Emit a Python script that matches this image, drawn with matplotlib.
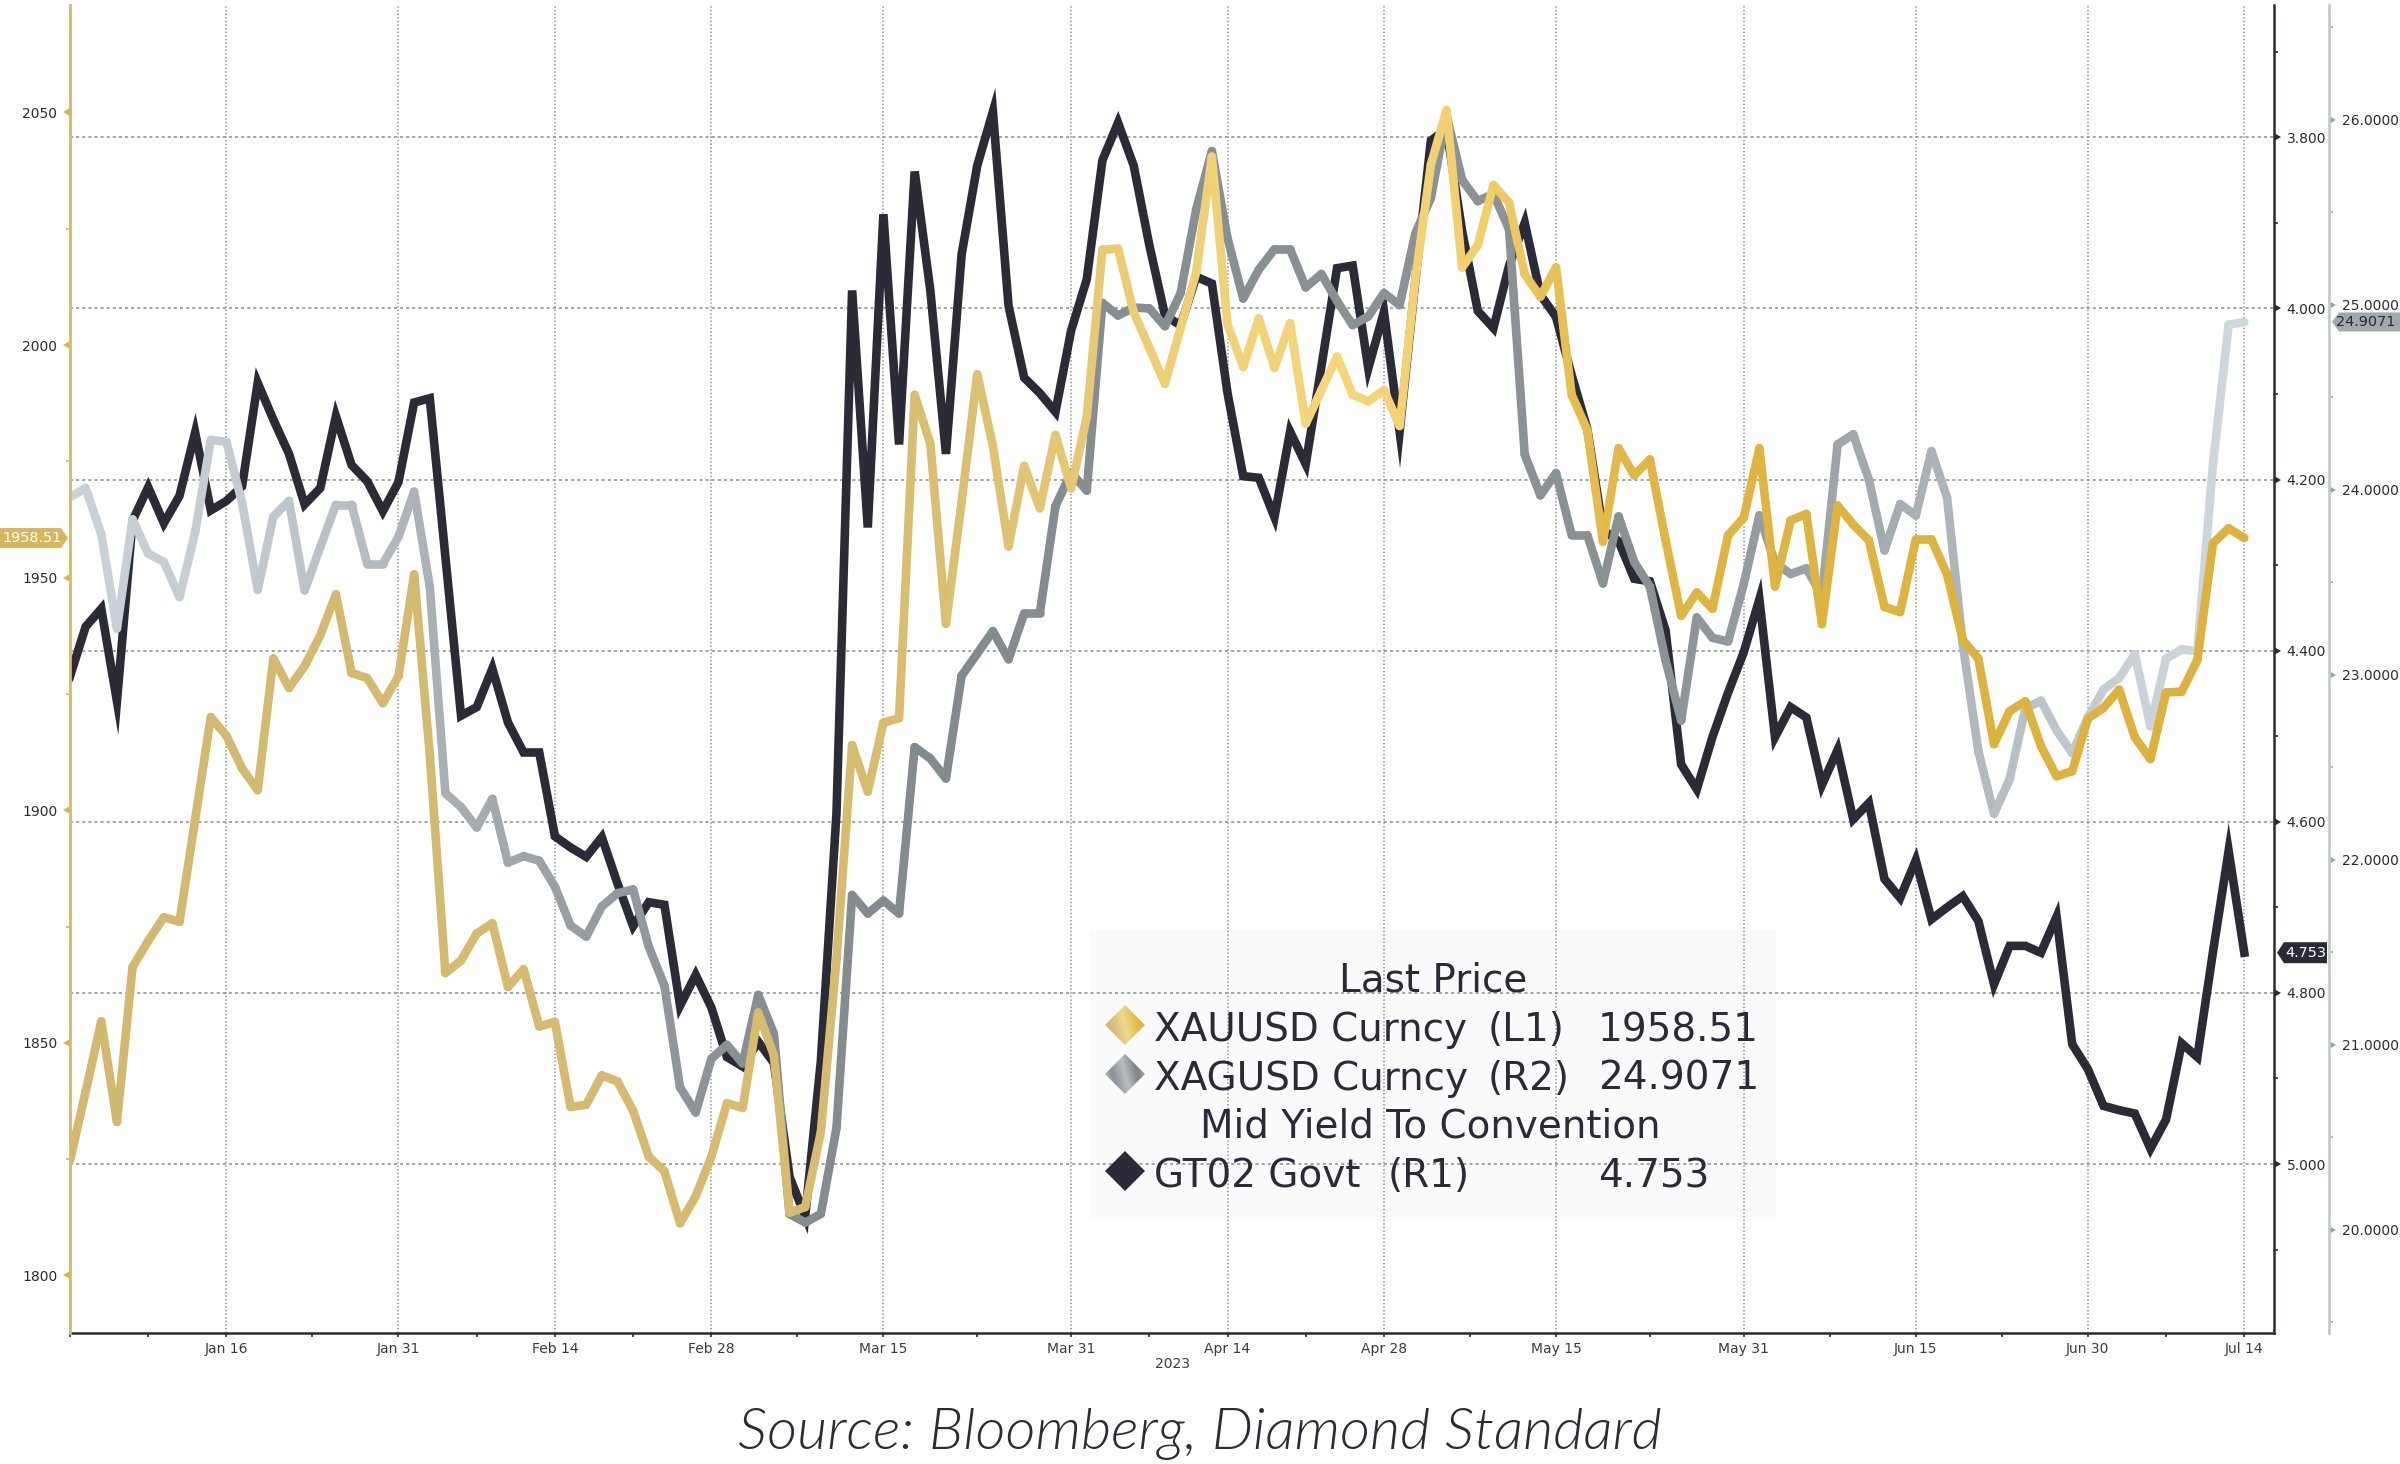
import numpy as np
import pandas as pd
import matplotlib
matplotlib.use('Agg')
import matplotlib.pyplot as plt
import matplotlib.transforms as mtrans
from matplotlib.collections import LineCollection
from matplotlib.colors import LinearSegmentedColormap
from matplotlib.patches import Polygon, Rectangle
from matplotlib.ticker import MultipleLocator, FormatStrFormatter

plt.rcParams['font.family'] = ['DejaVu Sans']
plt.rcParams['lines.scale_dashes'] = False

# weekdays shown on the x axis (Bloomberg keeps holidays)
dates = pd.bdate_range('2023-01-02', '2023-07-14')

# XAUUSD Curncy, left axis
gold = [
    1824.7, 1839.5, 1854.6, 1833.0, 1866.3, 1871.9, 1877.0, 1876.0, 1898.0, 1920.0,
    1916.0, 1909.0, 1904.3, 1932.6, 1926.3, 1931.0, 1937.6, 1946.4, 1929.5, 1928.4,
    1923.0, 1928.8, 1950.7, 1912.0, 1865.0, 1867.7, 1873.5, 1875.7, 1862.0, 1865.8,
    1853.5, 1854.5, 1836.2, 1836.7, 1843.0, 1841.7, 1835.4, 1825.5, 1822.4, 1811.2,
    1817.0, 1825.5, 1837.0, 1836.0, 1856.5, 1847.3, 1813.5, 1814.7, 1830.8, 1868.0,
    1914.0, 1904.0, 1918.8, 1919.8, 1989.3, 1978.8, 1940.1, 1966.3, 1993.7, 1978.3,
    1956.7, 1974.0, 1964.9, 1980.7, 1969.2, 1984.5, 2020.5, 2020.7, 2007.1, 1999.4,
    1991.7, 2003.7, 2015.7, 2040.5, 2004.4, 1995.3, 2005.7, 1995.1, 2004.7, 1983.1,
    1990.3, 1997.5, 1989.3, 1987.9, 1990.3, 1982.6, 2014.0, 2038.8, 2050.5, 2016.7,
    2021.5, 2034.4, 2030.6, 2015.2, 2010.4, 2016.7, 1989.3, 1981.7, 1957.7, 1977.8,
    1972.0, 1975.4, 1958.1, 1941.8, 1946.8, 1943.3, 1959.1, 1962.9, 1977.8, 1948.1,
    1962.3, 1963.7, 1940.0, 1965.5, 1961.4, 1958.0, 1943.7, 1942.6, 1958.2, 1958.2,
    1950.7, 1936.6, 1932.6, 1914.2, 1921.3, 1923.4, 1913.8, 1907.3, 1908.4, 1919.7,
    1922.0, 1925.9, 1915.7, 1911.0, 1925.3, 1925.5, 1932.3, 1957.4, 1960.6, 1958.51,
]

# XAGUSD Curncy, outer right axis
silver = [
    23.96, 24.01, 23.76, 23.25, 23.84, 23.655, 23.61, 23.42, 23.77, 24.27,
    24.26, 23.93, 23.46, 23.855, 23.94, 23.456, 23.69, 23.92, 23.92, 23.60,
    23.60, 23.746, 23.99, 23.476, 22.36, 22.285, 22.175, 22.33, 21.985, 22.02,
    21.995, 21.855, 21.645, 21.585, 21.748, 21.82, 21.84, 21.53, 21.32, 20.77,
    20.635, 20.925, 21.0, 20.9, 21.27, 21.06, 20.086, 20.04, 20.086, 20.55,
    21.81, 21.71, 21.78, 21.71, 22.609, 22.548, 22.44, 22.995, 23.115, 23.236,
    23.084, 23.332, 23.332, 23.912, 24.092, 23.996, 25.01, 24.942, 24.985, 24.98,
    24.884, 25.063, 25.516, 25.83, 25.36, 25.034, 25.19, 25.30, 25.30, 25.094,
    25.166, 25.02, 24.89, 24.937, 25.063, 24.998, 25.384, 25.577, 26.023, 25.674,
    25.56, 25.60, 25.407, 24.19, 23.97, 24.09, 23.755, 23.755, 23.494, 23.856,
    23.61, 23.477, 23.08, 22.753, 23.31, 23.20, 23.18, 23.49, 23.862, 23.605,
    23.545, 23.575, 23.43, 24.245, 24.30, 24.054, 23.672, 23.923, 23.861, 24.209,
    23.957, 23.166, 22.587, 22.249, 22.436, 22.818, 22.86, 22.70, 22.577, 22.77,
    22.92, 22.983, 23.112, 22.722, 23.088, 23.137, 23.128, 24.14, 24.892, 24.9071,
]

# GT02 Govt mid yield, inner right axis (inverted)
gt02 = [
    4.430, 4.372, 4.351, 4.459, 4.248, 4.209, 4.251, 4.219, 4.145, 4.236,
    4.225, 4.208, 4.087, 4.130, 4.170, 4.229, 4.210, 4.126, 4.183, 4.202,
    4.237, 4.203, 4.110, 4.105, 4.290, 4.476, 4.466, 4.421, 4.484, 4.519,
    4.519, 4.617, 4.630, 4.641, 4.618, 4.672, 4.722, 4.694, 4.697, 4.815,
    4.779, 4.817, 4.875, 4.886, 4.857, 4.882, 5.015, 5.061, 4.880, 4.590,
    3.979, 4.256, 3.890, 4.159, 3.840, 3.979, 4.170, 3.937, 3.833, 3.770,
    3.997, 4.081, 4.099, 4.121, 4.026, 3.966, 3.827, 3.783, 3.833, 3.926,
    4.008, 4.020, 3.963, 3.971, 4.099, 4.196, 4.198, 4.244, 4.144, 4.182,
    4.068, 3.953, 3.950, 4.070, 4.004, 4.144, 3.969, 3.804, 3.790, 3.910,
    4.003, 4.023, 3.950, 3.900, 3.984, 4.010, 4.078, 4.141, 4.259, 4.272,
    4.316, 4.319, 4.376, 4.533, 4.562, 4.501, 4.449, 4.402, 4.340, 4.501,
    4.466, 4.478, 4.557, 4.516, 4.597, 4.578, 4.667, 4.689, 4.645, 4.714,
    4.700, 4.687, 4.716, 4.790, 4.745, 4.745, 4.753, 4.711, 4.860, 4.889,
    4.932, 4.937, 4.941, 4.982, 4.948, 4.859, 4.875, 4.752, 4.634, 4.753,
]

label_dates = ['2023-01-16', '2023-01-31', '2023-02-14', '2023-02-28', '2023-03-15',
               '2023-03-31', '2023-04-14', '2023-04-28', '2023-05-15', '2023-05-31',
               '2023-06-15', '2023-06-30', '2023-07-14']
label_text = ['Jan 16', 'Jan 31', 'Feb 14', 'Feb 28', 'Mar 15', 'Mar 31', 'Apr 14',
              'Apr 28', 'May 15', 'May 31', 'Jun 15', 'Jun 30', 'Jul 14']

INK = '#2b2a37'
GRID = '#8c8c8c'
GOLD_AXIS = '#d6b86a'
SILVER_AXIS = '#c3cbd0'
TICK_FS = 5.0

# metallic colour drift along the lines
gold_cmap = LinearSegmentedColormap.from_list('gold', [
    (0.00, '#d3b970'), (0.35, '#d6bb70'), (0.42, '#dcc172'), (0.50, '#ecce74'),
    (0.58, '#f5d67a'), (0.65, '#f1cf6c'), (0.69, '#e6be50'), (0.73, '#dfb543'),
    (1.00, '#dcb13d')])
silver_cmap = LinearSegmentedColormap.from_list('silver', [
    (0.00, '#c9d2d8'), (0.08, '#c3cbd0'), (0.13, '#b7bec3'), (0.17, '#a9afb3'),
    (0.24, '#969ca0'), (0.32, '#878d90'), (0.40, '#828a8d'), (0.55, '#889094'),
    (0.65, '#8c9295'), (0.72, '#899093'), (0.79, '#989fa3'), (0.85, '#a8b0b4'),
    (0.90, '#b9c1c6'), (0.95, '#c8d1d6'), (1.00, '#cdd7dd')])

W, H = 2400, 1464
DPI = 200


def px(x, y):
    return x / W, 1 - y / H


fig = plt.figure(figsize=(W / DPI, H / DPI), dpi=DPI, facecolor='white')
ax_r = fig.add_axes([70 / W, 1 - 1332.6 / H, 2204 / W, 1327.6 / H])
ax_s = ax_r.twinx()
ax_l = ax_r.twinx()

x = np.arange(len(dates))
ax_r.set_xlim(0, 140.9)
ax_r.set_ylim(5.197, 3.6454)
ax_s.set_ylim(19.445, 26.62)
ax_l.set_ylim(1787.7, 2073.1)


def metal_line(ax, values, cmap):
    pts = np.column_stack([x, values])
    segs = np.stack([pts[:-1], pts[1:]], axis=1)
    lc = LineCollection(segs, cmap=cmap, linewidths=3.1, capstyle='round',
                        joinstyle='round', zorder=3)
    lc.set_array((x[:-1] + 0.5) / x[-1])
    lc.set_clim(0, 1)
    ax.add_collection(lc)


ax_r.plot(x, gt02, color=INK, lw=3.1, solid_joinstyle='miter', zorder=3)
metal_line(ax_s, silver, silver_cmap)
metal_line(ax_l, gold, gold_cmap)

# spines
for a in (ax_r, ax_s, ax_l):
    for s in a.spines.values():
        s.set_visible(False)
ax_r.spines['right'].set(visible=True, color=INK, lw=0.9)
ax_r.spines['bottom'].set(visible=True, color=INK, lw=0.9)
ax_l.spines['left'].set(visible=True, color=GOLD_AXIS, lw=1.0)
ax_s.spines['right'].set(visible=True, color=SILVER_AXIS, lw=1.0)
ax_s.spines['right'].set_position(('outward', 19.8))

# y axes
ax_r.yaxis.tick_right()
ax_r.yaxis.set_major_locator(MultipleLocator(0.2))
ax_r.yaxis.set_minor_locator(MultipleLocator(0.1))
ax_r.yaxis.set_major_formatter(FormatStrFormatter('%.3f'))
ax_s.yaxis.tick_right()
ax_s.yaxis.set_major_locator(MultipleLocator(1))
ax_s.yaxis.set_minor_locator(MultipleLocator(0.5))
ax_s.yaxis.set_major_formatter(FormatStrFormatter('%.4f'))
ax_l.yaxis.tick_left()
ax_l.yaxis.set_major_locator(MultipleLocator(50))
ax_l.yaxis.set_minor_locator(MultipleLocator(25))
ax_l.yaxis.set_major_formatter(FormatStrFormatter('%d'))

for a, col in ((ax_r, INK), (ax_s, '#a3aaae'), (ax_l, '#d9b54a')):
    a.tick_params(axis='y', which='major', length=3.2, pad=1.4, labelsize=TICK_FS,
                  color=col, labelcolor=INK)
    a.tick_params(axis='y', which='minor', length=1.5, width=0.6, color=col)


def caret_ticks(ax, marker, color):
    for t in ax.yaxis.get_major_ticks():
        for ln in (t.tick1line, t.tick2line):
            ln.set_marker(marker)
            ln.set_markersize(3.2)
            ln.set_markerfacecolor(color)
            ln.set_markeredgewidth(0)


caret_ticks(ax_r, 9, INK)
caret_ticks(ax_s, 9, '#9aa1a5')
caret_ticks(ax_l, 8, '#dcb443')

# x axis
tick_pos = [dates.get_loc(pd.Timestamp(d)) for d in label_dates]
bounds = [0] + tick_pos
minor_pos = [0] + [(a + b) / 2 for a, b in zip(bounds[:-1], bounds[1:])]
ax_r.set_xticks(tick_pos)
ax_r.set_xticklabels(label_text)
ax_r.set_xticks(minor_pos, minor=True)
ax_r.tick_params(axis='x', which='both', direction='out', length=1.6, width=0.6,
                 color=INK, labelsize=TICK_FS, labelcolor='#3a3a46', pad=1.8)
fig.text(*px(1172, 1364), '2023', ha='center', va='center', fontsize=TICK_FS, color='#3a3a46')

ax_r.set_axisbelow(True)
ax_r.grid(True, axis='y', which='major', color=GRID, lw=0.55, ls=(0, (1.1, 1.1)))
ax_r.grid(True, axis='x', which='major', color=GRID, lw=0.55, ls=(0, (0.5, 0.8)))


# last value tags on the axes
def value_tag(ax, xa, value, text, fc, tc, verts, tx):
    anchor = mtrans.ScaledTranslation(xa, value, ax.get_yaxis_transform())
    tr = mtrans.Affine2D().scale(1 / DPI) + fig.dpi_scale_trans + anchor
    fig.add_artist(Polygon(verts, closed=True, transform=tr, fc=fc, ec='none'))
    fig.text(tx, 0, text, transform=tr, ha='center', va='center', fontsize=5.2, color=tc)


value_tag(ax_l, 0, gold[-1], '1958.51', '#d8b65c', 'white',
          [(-2, 0), (-9, 10), (-70, 10), (-70, -10), (-9, -10)], -38)
value_tag(ax_s, 1 + 55 / 2204, silver[-1], '24.9071', '#a2a8ac', INK,
          [(3, 0), (10, 9.5), (80, 9.5), (80, -9.5), (10, -9.5)], 37)
value_tag(ax_r, 1, gt02[-1], '4.753', INK, 'white',
          [(3, 0), (10, 10.5), (53, 10.5), (53, -10.5), (10, -10.5)], 32)


# metallic diamond markers for the legend
def diamond(cx, cy, colors, size=40):
    dax = fig.add_axes([(cx - size / 2) / W, 1 - (cy + size / 2) / H, size / W, size / H])
    dax.set_axis_off()
    u = np.linspace(0, 1, 64)
    grad = (u[None, :] * 0.8 + u[::-1, None] * 0.2)
    cmap = LinearSegmentedColormap.from_list('d', colors)
    im = dax.imshow(grad, cmap=cmap, extent=[-1, 1, -1, 1], vmin=0, vmax=1,
                    interpolation='bilinear')
    clip = Polygon([(0, 1), (1, 0), (0, -1), (-1, 0)], transform=dax.transData)
    im.set_clip_path(clip)
    dax.set_xlim(-1, 1)
    dax.set_ylim(-1, 1)


# legend panel
ax_r.add_patch(Rectangle(px(1089, 1217), 687 / W, 287 / H, transform=fig.transFigure,
                         fc='#f4f4f4', ec='none', alpha=0.45, zorder=0.3))
leg = dict(fontsize=14.0, color=INK, va='baseline')
fig.text(*px(1433, 991.7), 'Last Price', ha='center', **leg)
fig.text(*px(1430, 1138), 'Mid Yield To Convention', ha='center', **leg)
rows = [
    (1041, ['#cdb46c', '#d8bf78', '#efd98c', '#e3bc4c', '#dcb03a'], 'XAUUSD Curncy', 1488, '(L1)', '1958.51'),
    (1090, ['#c3c8cb', '#8a9094', '#b9bfc2', '#7d8387', '#aeb4b7'], 'XAGUSD Curncy', 1488, '(R2)', '24.9071'),
    (1187, [INK, INK], 'GT02 Govt', 1388, '(R1)', '4.753'),
]
for base, cols, name, cx, code, val in rows:
    diamond(1125, base - 16, cols)
    fig.text(*px(1154, base), name, ha='left', **leg)
    fig.text(*px(cx, base), code, ha='left', **leg)
    fig.text(*px(1598, base), val, ha='left', **leg)

fig.text(*px(1200, 1434), 'Source: Bloomberg, Diamond Standard', ha='center', va='center',
         fontsize=21, fontstyle='italic', fontweight=300,
         family=['Lato', 'DejaVu Sans'], color=INK)

fig.savefig('out.png', dpi=DPI)
